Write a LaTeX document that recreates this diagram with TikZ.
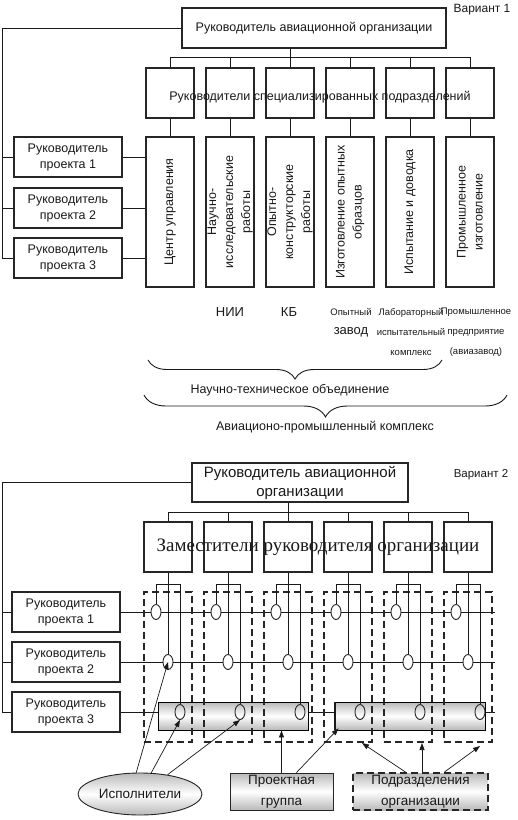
\documentclass[tikz,border=0pt]{standalone}
\usepackage{fontspec}
\setmainfont{Liberation Sans}
\newfontfamily\timesfont{Liberation Serif}
\usetikzlibrary{positioning, arrows.meta, shapes.geometric, decorations.pathreplacing}

\tikzset{
  txt/.style={font=\fontsize{12.5pt}{16pt}\selectfont, align=center, inner sep=0pt},
  smalltxt/.style={font=\fontsize{9.5pt}{20pt}\selectfont, align=center, inner sep=0pt},
  headbox/.style={draw=black!85, line width=2.6pt, align=center},
  pmbox/.style={draw=black!85, line width=2pt, minimum width=108pt, minimum height=40pt, txt},
  colbox/.style={draw=black!85, line width=2pt, minimum width=48pt, inner sep=0pt},
  vtext/.style={rotate=90, txt, font=\fontsize{12.5pt}{17pt}\selectfont},
  grp/.style={draw=black!85, line width=2pt, dash pattern=on 7pt off 4pt, minimum width=48pt, minimum height=150pt, inner sep=0pt},
  knot/.style={ellipse, draw=black!85, line width=0.9pt, minimum width=10pt, minimum height=15pt, inner sep=0pt},
  shade/.style={top color=gray!55, bottom color=gray!55, middle color=white},
  tube/.style={draw=black, line width=0.9pt, shade, minimum height=28pt, minimum width=150pt, inner sep=0pt},
  arr/.style={-{Triangle[length=7pt,width=5pt]}, line width=0.7pt},
  wire/.style={line width=0.9pt, black!90}
}

\begin{document}
\begin{tikzpicture}[x=1pt, y=-1pt, wire]
  \useasboundingbox (0,0) rectangle (518,820);

  % Variant 1
  \node[headbox, txt, minimum width=264pt, minimum height=40pt] (head1) at (314,28) {Руководитель авиационной организации};
  \node[txt, font=\fontsize{12pt}{14pt}\selectfont] (var1) at (482,10) {Вариант 1};

  \foreach \i/\x/\name in {1/170/{Центр управления}, 2/230/{Научно-\\исследовательские\\работы},
      3/290/{Опытно-\\конструкторские\\работы}, 4/350/{Изготовление опытных\\образцов},
      5/410/{Испытание и доводка}, 6/470/{Промышленное\\изготовление}} {
    \node[colbox, minimum height=50pt] (up\i) at (\x,93) {};
    \node[colbox, minimum height=150pt] (col\i) at (\x,212) {};
    \node[vtext] (colt\i) at (col\i) {\name};
    \draw ([yshift=10pt]up\i.north) -- (up\i.north);
    \draw (up\i.south) -- (col\i.north);
  }
  \draw ([yshift=10pt]up1.north) -- ([yshift=10pt]up6.north);
  \draw (head1.south -| up3.north) -- ([yshift=10pt]up3.north);
  \node[txt] (uptext) at (320,97) {Руководители специализированных подразделений};

  \foreach \i/\y in {1/157,2/208,3/258} {
    \node[pmbox] (pm\i) at (68,\y) {Руководитель\\проекта \i};
    \draw (pm\i.east) -- (pm\i.east -| col1.west);
    \draw ([xshift=-11pt]pm\i.west) -- (pm\i.west);
  }
  \draw (head1.west) -| ([xshift=-11pt]pm3.west);

  \node[txt, font=\fontsize{13pt}{16pt}\selectfont] (nii) at (230,312) {НИИ};
  \node[txt, font=\fontsize{13pt}{16pt}\selectfont] (kb) at (289,312) {КБ};
  \node[smalltxt] (zav1) at (351,312) {Опытный};
  \node[txt, font=\fontsize{13pt}{16pt}\selectfont] (zav2) at (351,332) {завод};
  \node[smalltxt] (lab) at (411,332) {Лабораторный\\испытательный\\комплекс};
  \node[smalltxt] (prom) at (476,332) {Промышленное\\предприятие\\(авиазавод)};

  \draw[decorate, decoration={brace, mirror, amplitude=19pt}] (148,360) -- (442,360);
  \node[txt] (nto) at (290,390) {Научно-техническое объединение};
  \draw[decorate, decoration={brace, mirror, amplitude=22pt}] (144,395) -- (507,395);
  \node[txt] (apk) at (325,427) {Авиационо-промышленный комплекс};

  % Variant 2
  \node[headbox, txt, font=\fontsize{15pt}{19pt}\selectfont, minimum width=216pt, minimum height=39pt] (head2) at (300,482.5) {Руководитель авиационной\\организации};
  \node[txt, font=\fontsize{11.5pt}{14pt}\selectfont] (var2) at (481,475) {Вариант 2};

  \coordinate (rowend) at (495,662);
  \foreach \i/\y in {1/612,2/662,3/712} {
    \node[pmbox] (pr\i) at (66,\y) {Руководитель\\проекта \i};
    \draw (pr\i.east) -- (pr\i.east -| rowend);
    \draw ([xshift=-9pt]pr\i.west) -- (pr\i.west);
  }
  \draw (head2.west) -| ([xshift=-9pt]pr3.west);

  \node[tube] (bar1) at (233,716) {};
  \node[tube] (bar2) at (410,716) {};
  \draw[line width=2pt] (bar2.north west) -- (bar2.south west);

  \foreach \i/\x in {1/168,2/228,3/288,4/348,5/408,6/468} {
    \node[colbox, minimum height=50pt] (dep\i) at (\x,547) {};
    \node[grp] (grp\i) at (\x,667) {};
    \node[knot, fill=white] (ea\i) at (\x-12,612) {};
    \node[knot, fill=white] (eb\i) at (\x,662) {};
    \node[knot] (ec\i) at (\x+12,712) {};
    \draw ([yshift=9pt]dep\i.north) -- (dep\i.north);
    \draw (dep\i.south) -- ++(0,11) coordinate (fork\i);
    \draw ([xshift=-12pt]fork\i) -- ([xshift=12pt]fork\i);
    \draw ([xshift=-12pt]fork\i) -- (ea\i.north);
    \draw (fork\i) -- (eb\i.north);
    \draw ([xshift=12pt]fork\i) -- (ec\i.north);
  }
  \draw ([yshift=9pt]dep1.north) -- ([yshift=9pt]dep6.north);
  \draw (head2.south -| dep3.north) -- ([yshift=9pt]dep3.north);
  \node[txt, font=\timesfont\fontsize{19pt}{22pt}\selectfont] (deptext) at (318,547) {Заместители руководителя организации};

  \node[ellipse, draw=black!85, line width=0.9pt, shade, minimum width=124pt, minimum height=42pt, txt, font=\fontsize{13.5pt}{16pt}\selectfont] (isp) at (140,794) {Исполнители};
  \node[draw=black!85, line width=0.9pt, shade, minimum width=103pt, minimum height=37pt, txt, font=\fontsize{13.5pt}{21pt}\selectfont] (pg) at (281.5,791.5) {Проектная\\группа};
  \node[grp, shade, minimum width=135pt, minimum height=37pt, txt, font=\fontsize{13.5pt}{21pt}\selectfont] (pod) at (420.5,791.5) {Подразделения\\организации};

  \draw[arr] (isp.100) -- (eb1.center);
  \draw[arr] (isp.62) -- (ec1.south);
  \draw[arr] (isp.35) -- (ec2.south);
  \draw[arr] (pg.north) -- (pg.north |- bar1.south);
  \draw[arr] ([xshift=15pt]pg.north) -- ([shift={(4pt,2pt)}]bar2.south west);
  \draw[arr] ([xshift=-15pt]pod.north) -- ([xshift=14pt]grp4.south);
  \draw[arr] ([xshift=1.5pt]pod.north) -- ([xshift=14pt]grp5.south);
  \draw[arr] ([xshift=24pt]pod.north) -- ([shift={(12pt,-3pt)}]grp6.south);
\end{tikzpicture}
\end{document}
